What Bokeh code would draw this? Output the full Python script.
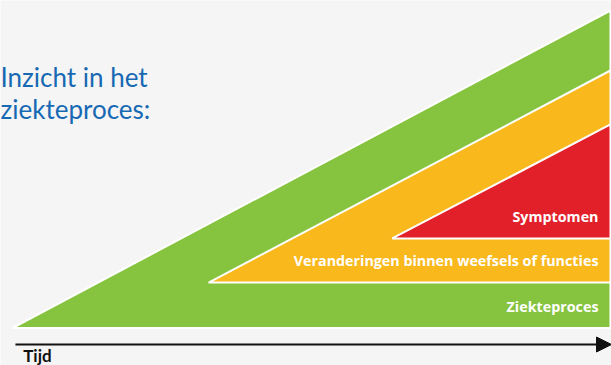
from bokeh.plotting import figure
from bokeh.models import Range1d, ColumnDataSource, Arrow, NormalHead
from bokeh.core.properties import value
from bokeh.embed import file_html
from bokeh.resources import INLINE

# --- data (time 0..100, level 0..100) ---
stages = ["Ziekteproces", "Veranderingen binnen weefsels of functies", "Symptomen"]
onset = [0.0, 32.8, 63.5]      # time at which each stage begins
base = [0.0, 14.3, 28.2]       # level of each stage's floor
peak = [100.0, 81.1, 64.1]     # level reached at end of time axis
colors = ["#86c440", "#f9b81c", "#e2202a"]
t_end = 100.0
title_lines = ["Inzicht in het", "ziekteproces:"]
title_levels = [77.0, 66.9]
axis_label = "Tijd"
axis_level = -5.2

X0, X1 = -2.0, 100.17
p = figure(width=611, height=365,
           x_range=Range1d(X0, X1), y_range=Range1d(-11.81, 103.15),
           output_backend="svg", toolbar_location=None, min_border=0)
p.axis.visible = False
p.grid.visible = False
p.outline_line_color = None
p.background_fill_color = "#f5f5f5"
p.border_fill_color = "#f5f5f5"

tri = ColumnDataSource(dict(
    xs=[[o, t_end, t_end] for o in onset],
    ys=[[b, pk, b] for b, pk in zip(base, peak)],
    color=colors,
))
p.patches("xs", "ys", source=tri, fill_color="color", line_color="white", line_width=2)

lab = ColumnDataSource(dict(x=[t_end] * len(stages), y=base, text=stages))
p.text("x", "y", text="text", source=lab, x_offset=-12, y_offset=-22,
       text_align="right", text_baseline="alphabetic", text_color="white",
       text_font=value("Open Sans"), text_font_style="bold", text_font_size="14.3px")

ttl = ColumnDataSource(dict(x=[X0] * len(title_lines), y=title_levels, text=title_lines))
p.text("x", "y", text="text", source=ttl, x_offset=0, y_offset=-7,
       text_align="left", text_baseline="alphabetic", text_color="#1769b3",
       text_font=value("Lato"), text_font_size="26px")

p.add_layout(Arrow(x_start=0.5, y_start=axis_level, x_end=X1, y_end=axis_level,
                   line_width=2, line_color="#111111",
                   end=NormalHead(size=15, fill_color="#111111", line_color="#111111")))

p.text(x=[1.8], y=[-11.0], text=[axis_label], text_align="left", text_baseline="alphabetic",
       y_offset=-7, text_color="#111111", text_font=value("Lato"), text_font_style="bold",
       text_font_size="17px")

open("out.html", "w").write(file_html(p, INLINE))
